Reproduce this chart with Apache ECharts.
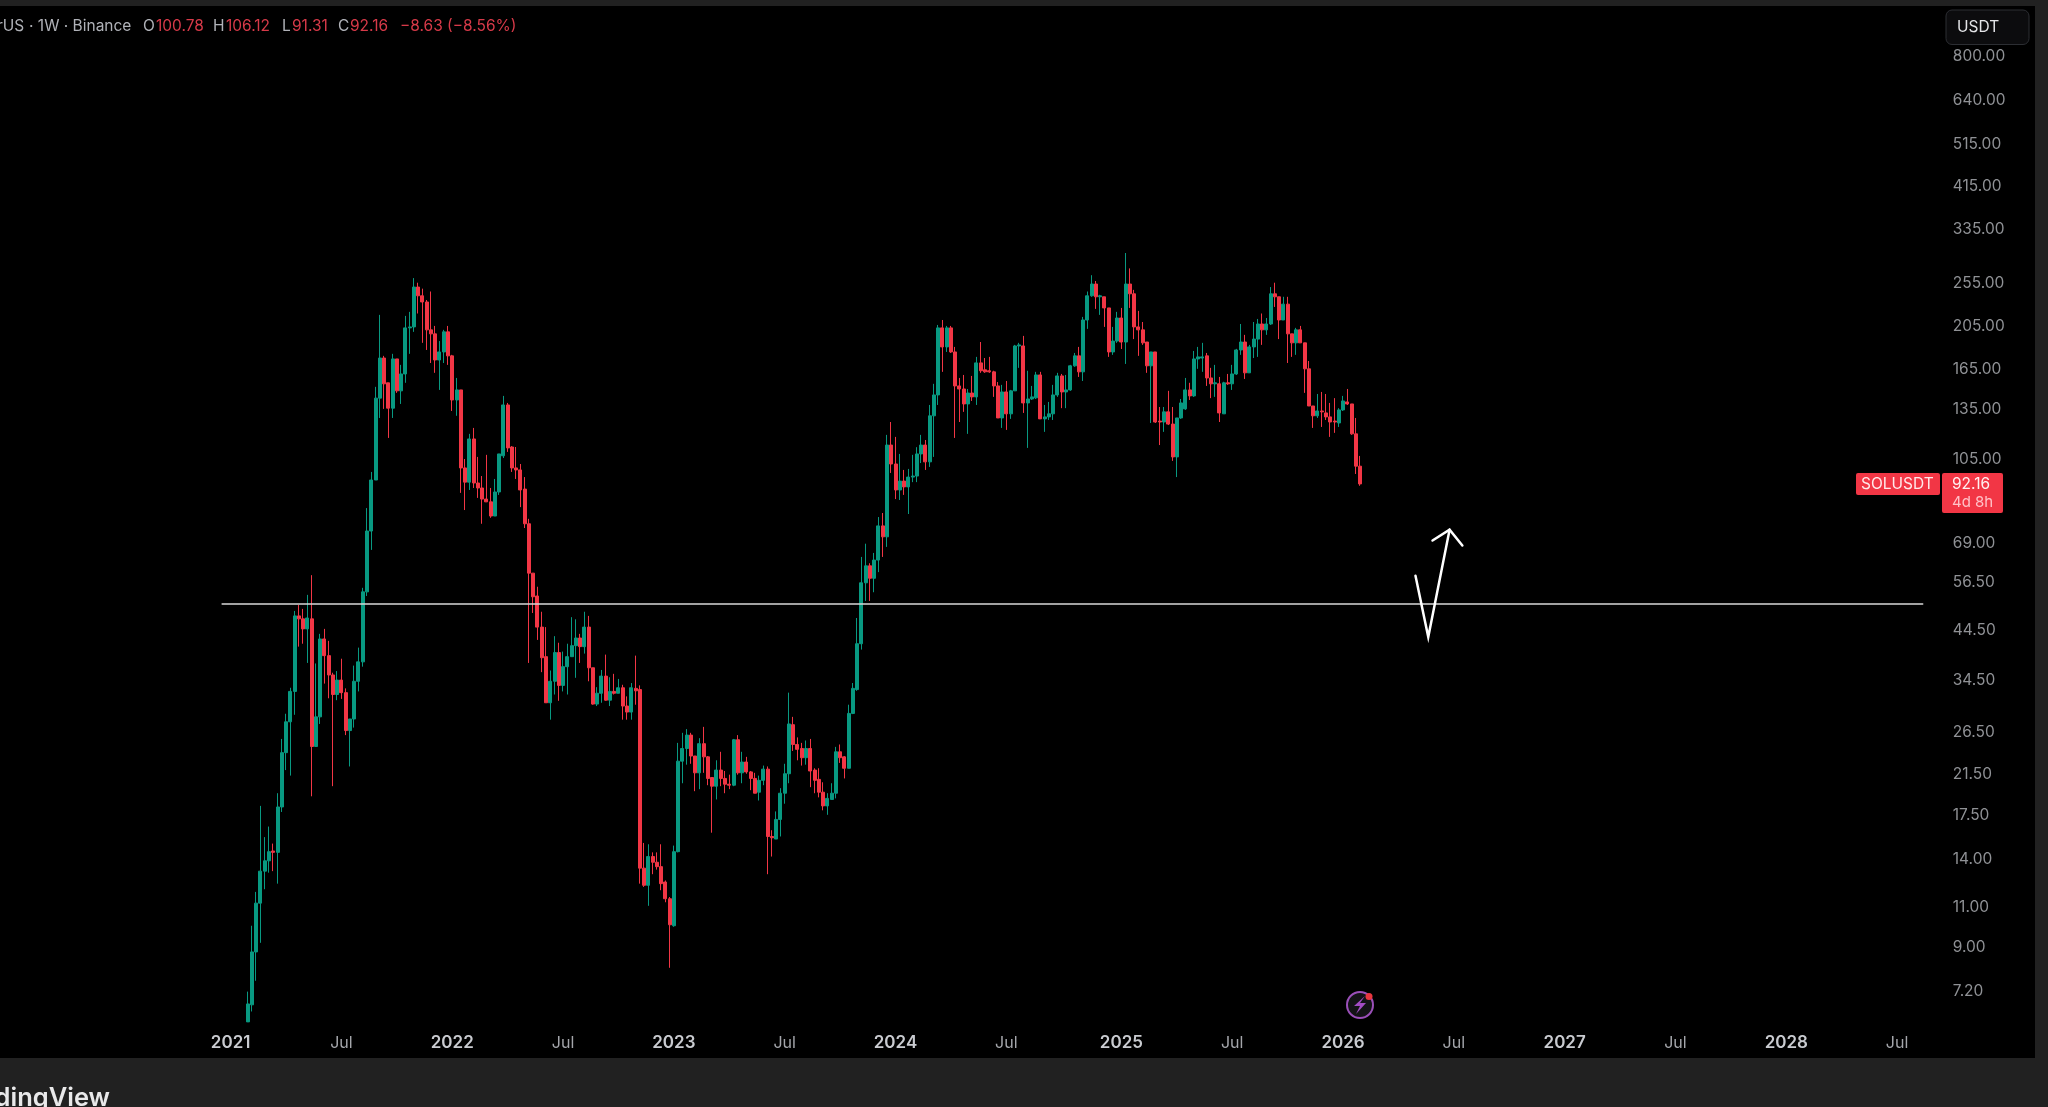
<!DOCTYPE html>
<html><head><meta charset="utf-8"><title>SOLUSDT 1W</title>
<script src="https://cdn.jsdelivr.net/npm/echarts@6/dist/echarts.min.js"></script>
<style>
html,body{margin:0;padding:0;width:2048px;height:1107px;overflow:hidden;background:#212121}
#panel{position:absolute;left:0;top:6px;width:2035px;height:1052px;background:#000}
#c{position:absolute;left:0;top:0;width:2048px;height:1107px}
</style></head><body><div id="panel"></div><div id="c"></div>
<script>
const firstWeek = '2021-02-01';
const leadingEmptyWeeks = 57;
const totalWeeks = 451;
const opens = [
6.13,6.68,8.72,11.15,13.1,13.8,14.5,14.4,18.1,23.8,
27.8,32.4,47.4,46.7,44.4,46.7,24.55,28.5,42.2,38.8,
35.2,31.9,34.3,32.2,26.6,28.2,34.1,37.6,53.5,72.7,
94,142,173.8,153.4,135,173,147.3,160.4,202.3,203.3,
248.5,237.8,230.5,200.3,196.3,172.1,179.2,198.3,175.7,140.7,
148,99.9,93,115.6,92.6,90.3,85.4,84.2,78.4,88.5,
106.2,137.2,111,99.9,98.9,89.8,75.4,58.8,52.4,44.8,
38.6,30.6,34.1,39.4,33.4,36.7,38.6,40.8,42.4,40.6,
44.8,36.5,30.4,32.1,35,31,32.4,32.1,33,30.1,
29.2,32.9,32.7,13.3,12.2,14.1,13.7,13.4,12.4,11.4,
9.95,14.45,22.8,24.3,26,23.4,21.5,24.9,23.3,21,
20.1,21.8,20.9,20.3,20.2,25.4,21.5,22.7,21.6,20.9,
19.5,20.7,21.9,15.6,15.4,17,19.4,21.4,27.4,24.8,
24.3,23.2,24.3,21.8,20.8,19.5,18.2,18.8,19.4,23.9,
23.3,22,29,32.7,41.2,56,61,57.3,62.8,74.6,
70.6,112.1,101.9,89.4,93.5,90.8,95.4,95.9,107.2,112.1,
103,129.9,144.3,202.3,183.8,202.3,179.2,151,148.7,137.9,
145.7,142.9,169.6,163.8,163,162.1,151,128.5,146.5,131.2,
147.3,184.7,184.7,138.6,141.4,142.2,159.6,127.9,129.2,131.2,
144.3,158.8,146.5,148,167.1,175.7,162.1,210.5,237.8,252.3,
236.6,236.6,223.7,179.2,189.3,212.6,188.4,252.3,240.2,203.3,
200.3,188.4,167.1,179.2,126.5,125.9,132.5,124.6,105.6,128.5,
134.5,148,143.6,173,173.8,175.7,157.2,152.6,152.6,131.2,
153.4,152.6,160.4,181,188.4,161.3,183.8,191.2,206.3,200.3,
206.3,240.2,236.6,210.5,228,196.3,187.6,200.3,187.6,164.6,
136.5,129.9,133.1,131.8,129.2,126.5,125.3,133.8,139.3,137.9,118.6,100.78];
const closes = [
6.71,8.72,11.15,13.1,13.8,14.45,14.4,18.1,23.8,27.8,
32.4,47.4,46.7,44.4,46.9,24.55,28.5,42.2,38.8,35.2,
31.9,34.3,32.2,26.6,28.2,34.1,37.6,53.5,72.7,94,
142,173.8,152.6,135,173,147.3,160.4,202.3,203.3,248.5,
237.8,230.5,200.3,196.3,172.1,179.2,198.3,175.7,140.7,148,
99.9,93,115.6,92.6,90.3,85.4,84.2,78.4,88.5,107.2,
137.2,110.5,99.9,98.9,89.4,75.4,58.8,52.2,44.8,38.4,
30.6,34.1,39.4,33.4,36.7,38.6,40.8,42.4,40.6,44.8,
36.5,30.4,32.1,35,31,32.4,32.1,33,30.1,29.2,
33,32.5,13.3,12.2,14.1,13.7,13.4,12.3,11.4,10,
14.45,22.8,24.3,26,23.4,21.5,24.9,23.3,20.9,20.1,
21.8,20.9,20.3,20.2,25.4,21.5,22.7,21.6,20.9,19.4,
20.7,21.9,15.6,15.5,17,19.4,21.4,27.5,24.8,24.2,
23.2,24.3,21.7,20.7,19.5,18.2,18.9,19.4,23.9,23.2,
22,29,32.9,41.2,56,61,57.3,62.8,74.6,70.6,
112.1,101.9,89.4,93.5,90.8,95.4,95.9,107.2,112.1,103,
129.9,144.3,202.3,183.8,202.3,179.2,151,148.7,137.9,145.7,
142.9,169.6,163,162.1,162.1,151,128.5,146.5,131.2,147.3,
184.7,185.7,138.6,141.4,142.9,159.6,127.9,129.2,131.2,144.3,
158.8,146.5,148,167.1,175.7,162.1,210.5,237.8,252.3,236.6,
237.8,223.7,179.2,189.3,212.6,188.4,252.3,240.2,203.3,200.3,
187.6,167.1,179.2,125.9,125.9,132.5,124.6,105.6,128.5,138.6,
148,143.6,173,174.8,174.8,157.2,152.6,153.4,131.8,153.4,
152.6,160.4,181,188.4,161.3,183.8,191.2,206.3,200.3,206.3,
240.2,236.6,210.5,228,196.3,187.6,200.3,187.6,164.6,136.5,
129.9,133.1,132.5,129.2,125.9,125.9,133.8,140,137.9,118.6,100.79,92.16];
const lows = [
6.13,6.46,7.54,9.13,11.96,13,13.1,12.3,17.65,21.8,
21.2,28.8,40.6,41.2,37.4,19.1,24.55,27.5,33.7,31.3,
20.1,31,31.2,26,22.2,27,32.4,36.7,52.4,66.1,
94,128.5,134.5,116.2,128.5,145.8,137.9,153.4,177.5,198.3,
217.5,187.6,181,169.5,161.3,148,169.5,167.9,133.1,129.9,
88.1,80.8,89.4,90.3,85.9,75.4,84.2,77.7,78.4,87.2,
105,108.3,97.9,94.5,82,73.8,37.4,48.1,42,35.7,
30.6,28.1,31.9,30.9,32.4,31.9,38.6,34.7,37.4,39.2,
34.1,30.3,30.1,30.6,30.9,30.1,31.9,32.1,28.1,28.1,
28.1,30.3,12.3,12.1,11,12.9,13.2,11.9,11.2,8.05,
9.9,14.4,20.4,22.4,22.5,19.6,19.8,21.5,20.2,15.9,
18.8,20.1,19.4,19.8,20.1,21.3,20.4,21.4,19.7,19.4,
18.7,20.2,12.9,14.1,15.4,15.6,18.4,20.4,24,22.9,
22.3,22.4,20,19.4,19,17.8,17.4,18.8,18.9,22.6,
20.9,22,28.9,32.5,40,51.1,51.1,53.4,59.1,63.8,
67.1,97.4,85.4,85,87.2,79.2,93,93,102.4,98.9,
100.4,105.6,137.2,162.1,179.2,178.3,116.2,125.9,132.5,118.6,
140,137.2,161.3,161.3,161.3,142.9,128.5,122.2,121,127.9,
147.3,165.4,131.8,110.5,140.7,141.4,127.9,119.8,127.2,127.2,
142.9,135,135,147.3,166.3,158,154.8,201.3,236.6,222.6,
216,203.3,174.8,176.6,187.6,181.9,168.7,223.7,191.2,175.7,
185.7,161.3,125.3,125.3,112.1,119.8,124,103.5,95.4,127.9,
133.8,140.7,142.9,164.6,162.1,151,142,142.9,125.9,131.2,
151.8,148,159.6,176.6,156.4,161.3,173.8,174.8,185.7,195.3,
205.3,224.8,191.2,210.5,169.5,174.8,176.6,187.6,145.8,136.5,
122.2,128.5,122.8,127.2,116.8,119.2,122.8,133.1,137.2,118,96.9,91.31];
const highs = [
7.14,9.95,11.8,18.2,15.55,16.4,15.05,19.4,25.5,28.95,
33,48.6,50.1,49.1,52.7,58.2,37.3,43.3,44.4,41.8,
35.6,35.9,38.2,32.9,28.2,36.9,40.4,54.6,81.6,97.9,
150.3,216,175.7,153.4,177.5,173,167.9,214.9,219.3,260,
254,246.5,232.8,243,204.3,189.3,200.3,204.3,176.6,157.2,
148,104.5,118.6,122.2,105.6,95.9,106.7,90.3,94.5,107.2,
143.6,138.6,111.5,111,101.9,95.4,77.3,58.8,54.9,48.4,
44.8,36,42.8,41.4,39.6,41.2,47.1,46.6,43.3,48.4,
47.4,36.5,33.1,36.1,39,34.8,35.4,34.5,33.5,31.6,
33.8,38.8,33.4,15.1,15,14.4,14.4,15,12.5,11.5,
14.9,25,26.3,26.8,26.3,23.4,25.6,27.1,23.4,21,
22.9,23.9,21.7,21.3,25.5,26,23.9,23.3,21.7,21.5,
21.2,22.3,22.2,16.1,17.7,19.9,22.5,32.2,28.5,25.7,
25,25.3,25.5,22,22,20.5,19.4,20.4,24.5,24.8,
23.4,30.3,33.8,46.9,63.8,68.2,61.8,65.1,78,79.6,
118,125.9,116.8,107.2,98.9,99.4,106.7,110.9,118,115,
137.2,152.6,205.3,210.5,204.3,204.3,183.8,157.2,159.6,148.7,
158.8,174.8,188.4,173.8,174.8,163,154,151.8,154.8,148,
185.7,187.6,194.3,163,151,162.1,162.1,137.2,139.3,151.8,
161.3,160.4,159.6,167.9,178.3,183.8,213.8,243,263.8,256.2,
239,236.6,223.7,203.3,219.3,223.7,295,273,245,220.4,
208.4,188.4,179.2,179.2,135.8,135.8,147.3,135.8,128.5,141.4,
157.2,153.4,180.1,183.8,187.6,178.3,165.4,167.9,158,154.2,
160.4,167.9,182,206.3,195.3,185.7,208.4,211.6,217.5,212.6,
248.5,254,236.6,236.6,236.6,196.3,202.3,204.3,187.6,171.2,
136.5,145,146.5,145,138.6,142,135,143.6,148.7,137.9,128.5,106.12];

const priceTicks = [800,640,515,415,335,255,205,165,135,105,69,56.5,44.5,34.5,26.5,21.5,17.5,14,11,9,7.2];
const timeTickDates = ['2021-01-04','2021-07-05','2022-01-03','2022-07-04','2023-01-02','2023-07-03','2024-01-01','2024-07-01','2025-01-06','2025-07-07','2026-01-05','2026-07-06','2027-01-04','2027-07-05','2028-01-03','2028-07-03'];
const timeTickLabels = ['2021','Jul','2022','Jul','2023','Jul','2024','Jul','2025','Jul','2026','Jul','2027','Jul','2028','Jul'];

const levelDates = ['2020-12-21','2028-08-14'];
const levelPrices = [50.3,50.3];
const pathDates = ['2026-05-04','2026-05-25','2026-06-29'];
const pathPrices = [58,42.6,73.2];
const headDates = ['2026-06-01','2026-06-29','2026-07-20'];
const headPrices = [69.3,73.2,67.6];

const DAY = 86400000, WEEK = 7 * DAY;
const iso = t => new Date(t).toISOString().slice(0, 10);
const start = Date.parse(firstWeek + 'T00:00:00Z') - leadingEmptyWeeks * WEEK;
const categories = [];
for (let i = 0; i < totalWeeks; i++) categories.push(iso(start + i * WEEK));
const candles = categories.map((_, i) => {
  const k = i - leadingEmptyWeeks;
  return k >= 0 && k < opens.length ? [opens[k], closes[k], lows[k], highs[k]] : '-';
});
const labelFor = {};
timeTickDates.forEach((d, i) => { labelFor[d] = timeTickLabels[i]; });
const UP = '#089981', DOWN = '#f23645';
const font = 'Inter';
const pair = (xs, ys) => xs.map((x, i) => [x, ys[i]]);
const drawn = (name, xs, ys, color, width) => ({
  name, type: 'line', data: pair(xs, ys), symbol: 'none', silent: true, z: 5, animation: false,
  lineStyle: { color, width, cap: 'round', join: 'miter' }
});

const chart = echarts.init(document.getElementById('c'), null, { renderer: 'canvas' });
chart.setOption({
  animation: false,
  backgroundColor: 'transparent',
  grid: { left: 2.6, top: 5, width: 1922.2, height: 1053 },
  xAxis: {
    type: 'category', data: categories, boundaryGap: true,
    axisLine: { show: false }, axisTick: { show: false }, splitLine: { show: false },
    axisLabel: {
      inside: true, margin: 6.5, hideOverlap: false,
      interval: (i, v) => v in labelFor,
      formatter: v => {
        const t = labelFor[v] || '';
        return t === 'Jul' ? '{m|' + t + '}' : '{y|' + t + '}';
      },
      rich: {
        y: { fontFamily: font, fontSize: 17, fontWeight: 600, color: '#c9cbd0' },
        m: { fontFamily: font, fontSize: 16, fontWeight: 400, color: '#a4a6ab' }
      }
    }
  },
  yAxis: {
    type: 'log', logBase: 10, position: 'right', min: 5.11, max: 1029.2,
    axisLine: { show: false }, axisTick: { show: false }, splitLine: { show: false }, minorTick: { show: false },
    axisLabel: {
      customValues: priceTicks, margin: 28, align: 'left',
      formatter: v => '{p|' + Number(v).toFixed(2) + '}',
      rich: { p: { fontFamily: font, fontSize: 15.5, color: '#8f9195', padding: [3, 0, 0, 0] } }
    }
  },
  series: [
    {
      name: 'SOLUSDT', type: 'candlestick', data: candles, barWidth: 3.5, z: 3,
      itemStyle: { color: UP, color0: DOWN, borderColor: UP, borderColor0: DOWN, borderWidth: 1 }
    },
    drawn('level', levelDates, levelPrices, '#d8d8d8', 1.5),
    drawn('path', pathDates, pathPrices, '#ffffff', 2.5),
    drawn('head', headDates, headPrices, '#ffffff', 2.5)
  ]
});

const lastClose = closes[closes.length - 1];
const cy = chart.convertToPixel({ yAxisIndex: 0 }, lastClose);
const txt = (text, x, y, fill, size, align, weight) => ({
  type: 'text', z: 20, silent: true, x, y,
  style: { text, fill, fontFamily: font, fontSize: size || 15.5, fontWeight: weight || 400, align: align || 'left', verticalAlign: 'middle' }
});
const rect = (x, y, w, h, fill, r, stroke) => ({
  type: 'rect', z: 19, silent: true,
  shape: { x, y, width: w, height: h, r: r || 0 },
  style: { fill, stroke: stroke || null, lineWidth: stroke ? 1 : 0 }
});
const GRAY = '#b0b2b8', VAL = '#d73a49';
chart.setOption({
  graphic: { elements: [
    txt('rUS', -3, 26.5, GRAY),
    txt('· 1W · Binance', 29, 26.5, GRAY),
    txt('O', 143, 26.5, GRAY), txt('100.78', 156, 26.5, VAL),
    txt('H', 213, 26.5, GRAY), txt('106.12', 226, 26.5, VAL),
    txt('L', 282, 26.5, GRAY), txt('91.31', 292, 26.5, VAL),
    txt('C', 338, 26.5, GRAY), txt('92.16', 350, 26.5, VAL),
    txt('−8.63 (−8.56%)', 400, 26.5, VAL),
    rect(1946, 10, 83, 34.5, '#0c0c0e', 6, '#2c2e33'),
    txt('USDT', 1957, 27, '#e4e5e8', 15.5),
    rect(1856, cy - 11, 84, 22, DOWN, 2),
    txt('SOLUSDT', 1861, cy, '#ffe9eb', 15.5),
    rect(1942, cy - 11, 61, 40, DOWN, 2),
    txt('92.16', 1952, cy, '#fff0f1', 15.5),
    txt('4d 8h', 1952, cy + 18.5, '#ffc2c8', 15),
    { type: 'circle', z: 19, silent: true, shape: { cx: 1360, cy: 1005, r: 13 }, style: { fill: '#131316', stroke: '#9a4fb8', lineWidth: 2 } },
    { type: 'polygon', z: 20, silent: true, shape: { points: [[1365, 996], [1354, 1006], [1360, 1006], [1356, 1014], [1366, 1003], [1360, 1003]] }, style: { fill: '#a24cc4' } },
    { type: 'circle', z: 21, silent: true, shape: { cx: 1369, cy: 996.5, r: 3.5 }, style: { fill: '#e8363f' } },
    txt('dingView', 110, 1098.5, '#e9e9ea', 25.5, 'right', 600)
  ] }
});
</script></body></html>
